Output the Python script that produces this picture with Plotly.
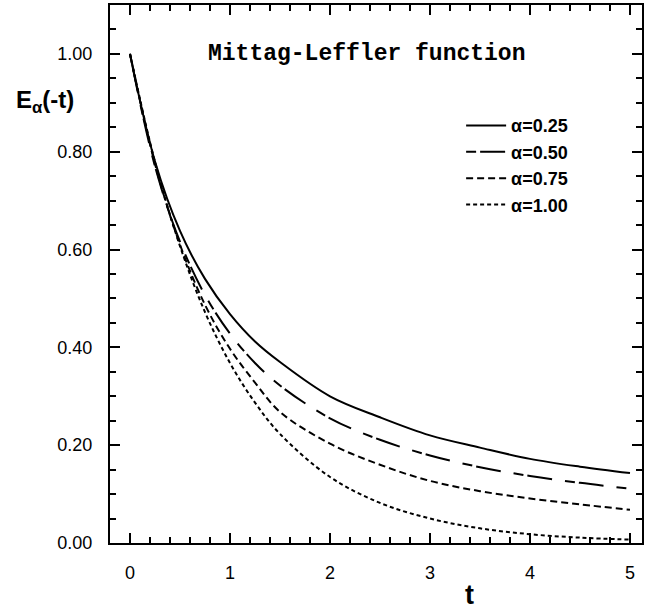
import plotly.graph_objects as go

# values
t_vals = [0.0, 0.25, 0.5, 0.75, 1.0, 1.25, 1.5, 2.0, 2.5, 3.0, 3.5, 4.0, 4.5, 5.0]
e_025 = [1.00, 0.780, 0.638, 0.540, 0.468, 0.412, 0.370, 0.300, 0.257, 0.220, 0.195, 0.172, 0.156, 0.143]
e_050 = [1.00, 0.770, 0.616, 0.507, 0.428, 0.368, 0.322, 0.255, 0.211, 0.179, 0.155, 0.137, 0.123, 0.111]
e_075 = [1.00, 0.775, 0.610, 0.487, 0.397, 0.328, 0.268, 0.203, 0.160, 0.127, 0.106, 0.091, 0.079, 0.068]
e_100 = [1.00, 0.779, 0.607, 0.472, 0.368, 0.287, 0.223, 0.135, 0.082, 0.050, 0.030, 0.018, 0.011, 0.007]

series_labels = ["α=0.25", "α=0.50", "α=0.75", "α=1.00"]
series_values = [e_025, e_050, e_075, e_100]
series_dash = ["solid", "10px,4px,25px,13px", "7px,4px", "4px,3px"]

x_ticks = [0, 1, 2, 3, 4, 5]
y_ticks = [0.0, 0.2, 0.4, 0.6, 0.8, 1.0]
y_ticktext = ["0.00", "0.20", "0.40", "0.60", "0.80", "1.00"]

fig = go.Figure()
for lab, vals, dash in zip(series_labels, series_values, series_dash):
    fig.add_trace(go.Scatter(
        x=t_vals, y=vals, mode="lines", name="<b>" + lab + "</b>",
        line=dict(color="black", width=2, dash=dash, shape="spline", smoothing=1.0),
    ))

tickfont = dict(family="Liberation Sans", size=18, color="black")
fig.update_layout(
    width=646, height=610,
    margin=dict(l=110, r=4, t=5, b=67),
    paper_bgcolor="white", plot_bgcolor="white",
    showlegend=True,
    legend=dict(
        x=0.66, y=0.81, xanchor="left", yanchor="top",
        bgcolor="rgba(0,0,0,0)", borderwidth=0,
        font=dict(family="Liberation Sans", size=18, color="black"),
        tracegroupgap=0, itemwidth=40,
    ),
    xaxis=dict(
        range=[-0.2, 5.12], tickvals=x_ticks, ticktext=[str(v) for v in x_ticks],
        showgrid=False, zeroline=False, automargin=False,
        showline=True, linecolor="black", linewidth=2, mirror="allticks",
        ticks="inside", ticklen=10, tickwidth=2, tickcolor="black",
        minor=dict(dtick=0.2, tick0=0, ticks="inside", ticklen=6, tickwidth=2, tickcolor="black", showgrid=False),
        tickfont=tickfont, ticklabelstandoff=12,
    ),
    yaxis=dict(
        range=[0, 1.10], tickvals=y_ticks, ticktext=y_ticktext,
        showgrid=False, zeroline=False, automargin=False,
        showline=True, linecolor="black", linewidth=2, mirror="allticks",
        ticks="inside", ticklen=10, tickwidth=2, tickcolor="black",
        minor=dict(dtick=0.05, tick0=0, ticks="inside", ticklen=6, tickwidth=2, tickcolor="black", showgrid=False),
        tickfont=tickfont, ticklabelstandoff=12,
    ),
    annotations=[
        dict(text="<b>Mittag-Leffler function</b>", xref="paper", yref="paper",
             x=0.483, y=0.908, xanchor="center", yanchor="middle", showarrow=False,
             font=dict(family="Liberation Mono", size=23, color="black")),
        dict(text="<b>E<sub>α</sub>(-t)</b>", xref="paper", yref="paper",
             x=-0.122, y=0.82, xanchor="center", yanchor="middle", showarrow=False,
             font=dict(family="Liberation Sans", size=24, color="black")),
        dict(text="<b>t</b>", xref="paper", yref="paper",
             x=0.676, y=-0.097, xanchor="center", yanchor="middle", showarrow=False,
             font=dict(family="Liberation Sans", size=27, color="black")),
    ],
)

fig.write_html("out.html", config={"displayModeBar": False},
               post_script="document.body.style.margin='0px';document.body.style.padding='0px';")
